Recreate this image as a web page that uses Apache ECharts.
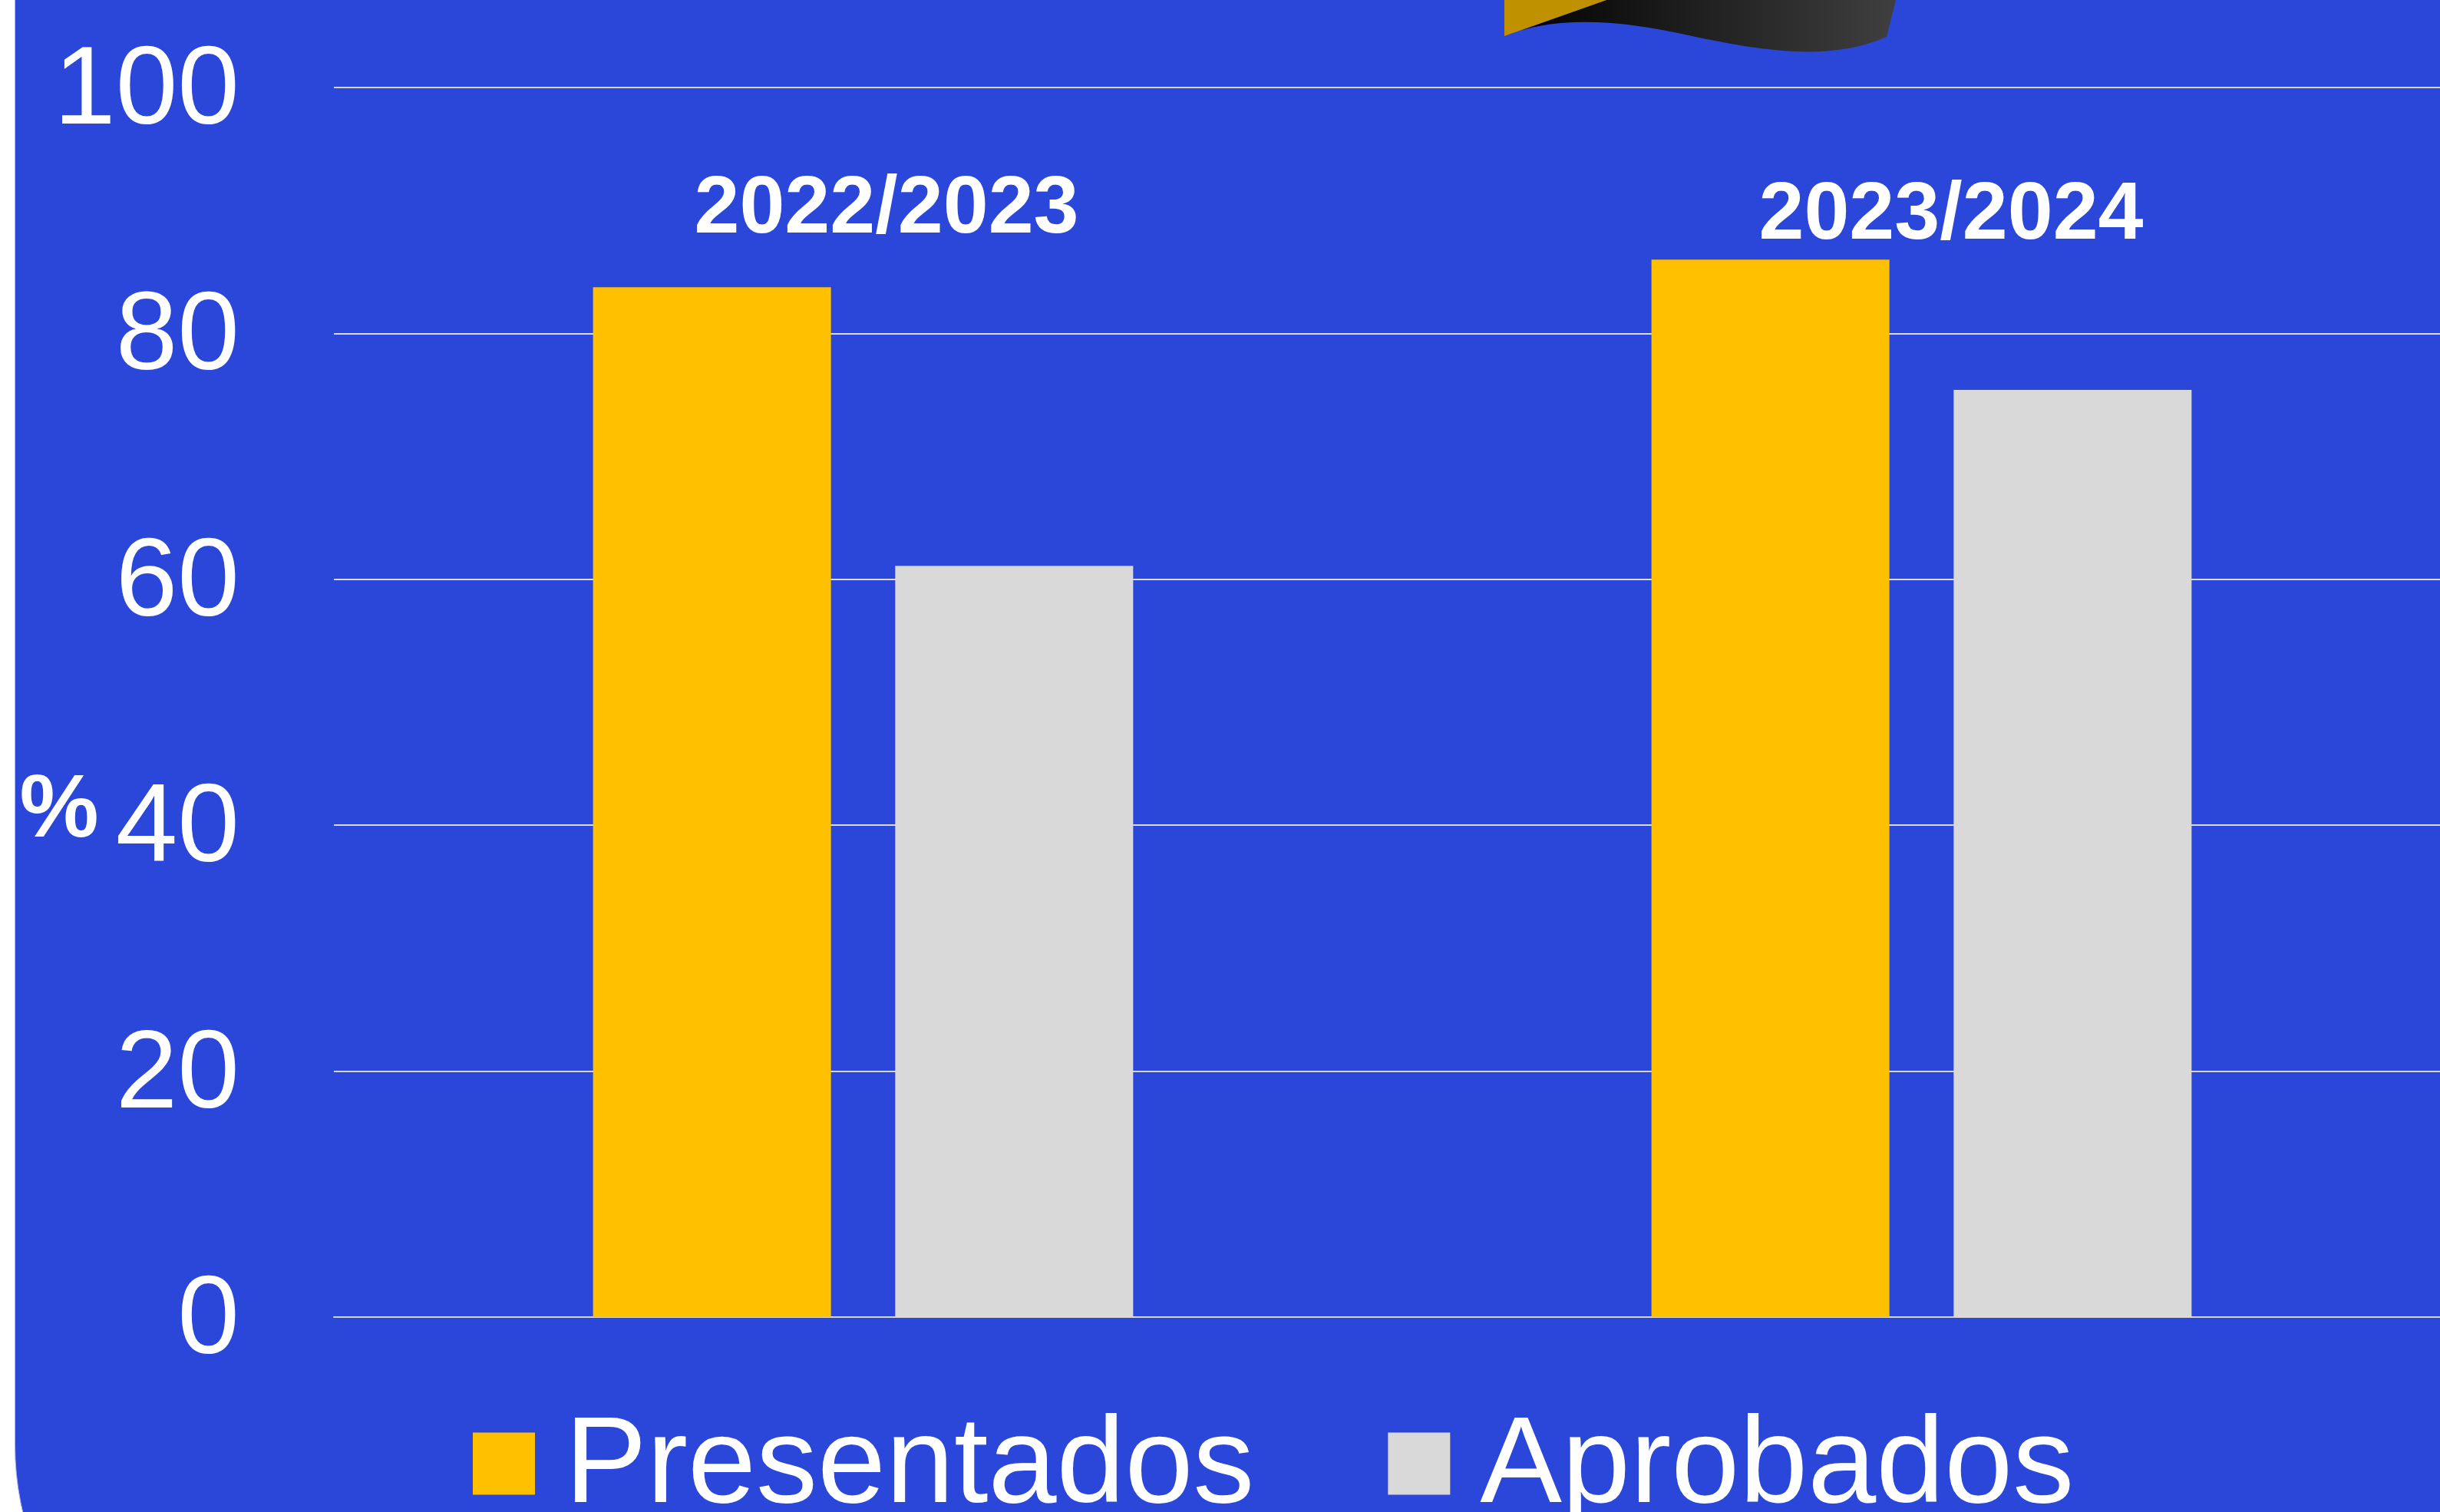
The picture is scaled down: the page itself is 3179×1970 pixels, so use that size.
<!DOCTYPE html>
<html>
<head>
<meta charset="utf-8">
<style>
  html, body { margin: 0; padding: 0; background: #fff; }
  #main { width: 3179px; height: 1970px; }
</style>
<script src="https://cdn.jsdelivr.net/npm/echarts@6/dist/echarts.min.js"></script>
</head>
<body>
<div id="main"></div>
<script>
const categories = ['2022/2023', '2023/2024']
const presentados = [83.75, 86.0]
const aprobados = [61.1, 75.4]
const seriesNames = ['Presentados', 'Aprobados']
const yTicks = [0, 20, 40, 60, 80, 100]

const font = '"Liberation Sans", Arial, sans-serif'
const blue = '#2b47d9'

// bottom of the flag at the top edge, only needed as a decoration
echarts.graphic.registerShape('flagTail', echarts.graphic.extendPath(
  'M1960 47 L2093 0 L2470 0 L2458 48 C2390 78 2310 70 2200 46 C2120 28 2030 18 1960 47 Z',
  {}
))

const myChart = echarts.init(document.getElementById('main'))

const option = {
  backgroundColor: '#fff',
  animation: false,
  textStyle: { fontFamily: font },
  // the second category runs past the right edge of the page
  grid: { left: 435, top: 114, width: 2758, height: 1602, outerBoundsMode: 'none' },
  legend: {
    data: seriesNames,
    left: 611,
    top: 1816,
    itemWidth: 81,
    itemHeight: 81,
    itemGap: 174,
    icon: 'rect',
    formatter: '{t|{name}}',
    textStyle: {
      color: '#fff',
      fontSize: 160,
      fontFamily: font,
      padding: [0, 0, 0, 34],
      rich: { t: { color: '#fff', fontSize: 160, fontFamily: font, lineHeight: 81, padding: [12, 0, 0, 0] } }
    }
  },
  xAxis: {
    type: 'category',
    data: categories,
    axisLabel: { show: false },
    axisTick: { show: false },
    axisLine: { lineStyle: { color: '#d9d9d9', width: 2 } }
  },
  yAxis: {
    type: 'value',
    min: yTicks[0],
    max: yTicks[yTicks.length - 1],
    interval: yTicks[1] - yTicks[0],
    axisLine: { show: false },
    axisTick: { show: false },
    // top aligned with a short line height, sits the digits a bit under the gridline centre
    axisLabel: { color: '#fff', fontSize: 145, fontFamily: font, margin: 123, verticalAlign: 'top', lineHeight: 14 },
    splitLine: { lineStyle: { color: '#d9d9d9', width: 2 } }
  },
  series: [
    {
      name: seriesNames[0],
      type: 'bar',
      data: presentados,
      barWidth: 310,
      barGap: '27%',
      itemStyle: { color: '#ffc000' }
    },
    {
      name: seriesNames[1],
      type: 'bar',
      data: aprobados,
      barWidth: 310,
      itemStyle: { color: '#d9d9d9' }
    }
  ],
  graphic: [
    // panel behind the chart, its rounded corners mostly run off the page
    {
      type: 'rect',
      z: -10,
      shape: { x: 19.5, y: -500, width: 3500, height: 2763, r: 380 },
      style: { fill: blue, stroke: '#a9b5ec', lineWidth: 1 }
    },
    {
      type: 'flagTail',
      z: -9,
      style: {
        fill: {
          type: 'linear', x: 0, y: 0, x2: 1, y2: 0,
          colorStops: [{ offset: 0, color: '#000' }, { offset: 1, color: '#3f3f3f' }]
        }
      }
    },
    {
      type: 'polygon',
      z: -8,
      shape: { points: [[1960, 0], [2093, 0], [1960, 47]] },
      style: { fill: '#bf9000' }
    },
    {
      type: 'text',
      x: 1155, y: 274,
      style: { text: categories[0], fill: '#fff', font: 'bold 106px ' + font, align: 'center', verticalAlign: 'middle' }
    },
    {
      type: 'text',
      x: 2542, y: 282,
      style: { text: categories[1], fill: '#fff', font: 'bold 106px ' + font, align: 'center', verticalAlign: 'middle' }
    },
    {
      type: 'text',
      x: 77, y: 1058,
      style: { text: '%', fill: '#fff', font: 'bold 116px ' + font, align: 'center', verticalAlign: 'middle' }
    }
  ]
}

myChart.setOption(option)
</script>
</body>
</html>
